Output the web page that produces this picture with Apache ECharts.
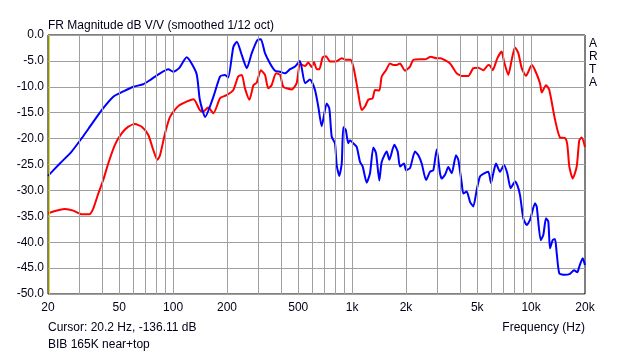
<!DOCTYPE html>
<html><head><meta charset="utf-8">
<script src="https://cdn.jsdelivr.net/npm/echarts@6/dist/echarts.min.js"></script>
<style>html,body{margin:0;padding:0;background:#fff}#c{width:633px;height:354px}</style>
</head><body><div id="c"></div>
<script>
const xTickLabels = [20, 50, 100, 200, 500, 1000, 2000, 5000, 10000, 20000];
const gridFreqs = [30,40,50,60,70,80,90,100,200,300,400,500,600,700,800,900,1000,2000,3000,4000,5000,6000,7000,8000,9000,10000];
const cursorFreq = 20.2;

const blueFreq = [20,23.3,27.1,30.9,34.3,39.9,46.3,52.7,59.9,68.1,74.3,82.7,94,100,108,119,135,141,151,168,183,195,203,217,227,242,258,275,295,309,326,348,371,396,422,450,480,511,546,582,620,647,676,721,746,769,802,820,848,875,893,921,952,973,1015,1061,1107,1146,1206,1259,1313,1360,1419,1463,1561,1614,1721,1797,1852,1949,2000,2106,2246,2344,2448,2588,2724,2842,2970,3098,3166,3304,3447,3600,3806,3920,4096,4180,4367,4556,4754,4966,5181,5405,5766,5971,6148,6365,6699,7054,7360,7690,8128,8373,8670,9046,9450,9858,10513,10746,11312,11696,12110,12472,12750,13199,13594,13900,14372,15466,16494,17362,18115,18589,19420,20000];
const blueDb = [-27.2,-24.8,-22.5,-19.9,-17.7,-14.5,-11.9,-10.9,-10.0,-9.5,-8.7,-7.6,-6.6,-7.1,-6.4,-4.3,-7.4,-12.5,-15.8,-11.9,-8.0,-7.7,-8.2,-2.3,-1.3,-3.9,-6.4,-3.5,-1.0,-0.8,-3.5,-5.5,-6.9,-7.1,-7.4,-6.6,-6.1,-5.0,-9.3,-8.6,-10.6,-13.8,-17.6,-13.2,-14.2,-19.6,-20.9,-25.1,-27.2,-24.8,-17.8,-18.3,-20.9,-20.3,-20.9,-21.6,-24.5,-25.4,-28.5,-26.7,-21.7,-22.8,-28.1,-24.5,-22.5,-24.1,-21.2,-22.5,-25.4,-24.8,-26.1,-25.7,-22.5,-23.2,-24.8,-28.0,-26.4,-26.1,-22.1,-26.7,-27.7,-27.0,-25.5,-26.7,-23.2,-24.1,-28.6,-30.6,-30.2,-32.2,-33.1,-29.9,-27.3,-26.8,-26.4,-28.6,-26.7,-24.8,-26.4,-25.1,-26.7,-29.6,-28.3,-29.0,-30.9,-35.4,-36.7,-35.7,-32.5,-33.1,-39.6,-38.6,-35.4,-36.0,-41.2,-39.6,-39.4,-42.1,-46.0,-46.3,-46.1,-45.4,-45.8,-44.7,-43.1,-44.4];

const redFreq = [20,24.9,27.7,30.9,34.0,35.8,38.2,40.7,43.4,47.3,51.6,56.2,61.2,66.8,72.7,77.5,81.6,84.5,90.1,96.1,107,130,141,147,157,168,183,199,217,231,242,252,267,281,293,309,326,340,355,376,396,413,460,490,511,546,569,595,612,634,656,685,715,752,813,875,933,982,1015,1051,1083,1131,1180,1231,1303,1342,1419,1463,1546,1628,1699,1774,1852,1974,2106,2198,2395,2554,2748,2970,3098,3232,3524,3840,4096,4457,4754,5070,5405,5766,5894,6102,6472,6848,7054,7457,7790,8128,8483,8862,9364,10076,10513,11211,11460,12110,12636,13594,14502,15466,15932,16349,17078,17975,18589,19175,20000];
const redDb = [-34.4,-33.6,-33.9,-34.6,-34.6,-33.5,-30.6,-28.0,-24.8,-21.2,-19.0,-17.7,-17.2,-17.7,-19.3,-22.2,-24.1,-23.2,-19.0,-15.8,-13.7,-12.4,-14.5,-14.8,-14.0,-15.1,-12.2,-11.6,-10.6,-8.0,-7.7,-10.3,-12.5,-9.7,-9.2,-6.8,-7.7,-10.3,-9.7,-7.4,-7.7,-10.0,-10.5,-9.3,-5.6,-6.0,-5.3,-6.2,-5.2,-6.6,-6.6,-4.3,-4.1,-5.1,-5.1,-4.5,-4.8,-4.8,-6.1,-8.7,-11.3,-14.5,-13.8,-12.5,-12.2,-10.6,-10.7,-8.0,-6.8,-5.5,-5.8,-5.8,-5.5,-6.9,-6.1,-4.8,-4.7,-4.7,-4.2,-4.5,-4.5,-4.7,-5.5,-7.4,-7.9,-7.9,-6.4,-6.3,-6.8,-5.8,-5.9,-6.8,-4.5,-3.2,-5.1,-7.7,-4.8,-2.4,-3.5,-6.4,-7.9,-5.8,-6.8,-9.3,-11.1,-9.7,-10.6,-16.3,-19.8,-19.9,-21.2,-25.4,-27.7,-25.4,-20.3,-19.8,-21.6];

const zip = (a, b) => a.map((v, i) => [v, b[i]]);
const fmtF = v => v >= 1000 ? (v / 1000) + 'k' : String(v);
const FONT = 'Liberation Sans, Arial, sans-serif';
const TXT = '#000018';

const chart = echarts.init(document.getElementById('c'), null, {renderer: 'canvas'});
chart.setOption({
  animation: false,
  backgroundColor: '#ffffff',
  textStyle: {fontFamily: FONT},
  grid: {left: 48, right: 48, top: 35, bottom: 60, show: true, backgroundColor: '#ffffff', borderColor: '#000000', borderWidth: 1},
  xAxis: {
    type: 'log', logBase: 10, min: 20, max: 20000,
    axisLine: {show: false}, axisTick: {show: false}, splitLine: {show: false}, minorSplitLine: {show: false},
    axisLabel: {customValues: xTickLabels, formatter: fmtF, color: TXT, fontSize: 12, fontFamily: FONT, margin: 8, showMinLabel: true, showMaxLabel: true}
  },
  yAxis: {
    type: 'value', min: -50, max: 0, interval: 5,
    axisLine: {show: false}, axisTick: {show: false},
    splitLine: {show: true, lineStyle: {color: '#a0a0a0', width: 1}},
    axisLabel: {formatter: v => v.toFixed(1), color: TXT, fontSize: 12, fontFamily: FONT, margin: 4}
  },
  series: [
    {type: 'line', data: [], z: 1, silent: true,
     markLine: {silent: true, symbol: 'none', animation: false, label: {show: false},
       lineStyle: {color: '#a0a0a0', type: 'solid', width: 1},
       data: gridFreqs.map(f => ({xAxis: f}))}},
    {type: 'line', data: [], z: 2, silent: true,
     markLine: {silent: true, symbol: 'none', animation: false, label: {show: false},
       lineStyle: {color: '#e0e000', type: 'solid', width: 1},
       data: [{xAxis: cursorFreq}]}},
    {name: 'red', type: 'line', data: zip(redFreq, redDb), showSymbol: false, smooth: 0.2, z: 3,
     lineStyle: {color: '#ff0000', width: 2}, itemStyle: {color: '#ff0000'}},
    {name: 'blue', type: 'line', data: zip(blueFreq, blueDb), showSymbol: false, smooth: 0.2, z: 4,
     lineStyle: {color: '#0000ff', width: 2}, itemStyle: {color: '#0000ff'}}
  ],
  graphic: [
    {type: 'text', left: 48, top: 20, style: {text: 'FR Magnitude dB V/V (smoothed 1/12 oct)', fill: TXT, font: '12px ' + FONT}},
    {type: 'text', left: 48, top: 322, style: {text: 'Cursor: 20.2 Hz, -136.11 dB', fill: TXT, font: '12px ' + FONT}},
    {type: 'text', left: 48, top: 339, style: {text: 'BIB 165K near+top', fill: TXT, font: '12px ' + FONT}},
    {type: 'text', right: 48, top: 322, style: {text: 'Frequency (Hz)', fill: TXT, font: '12px ' + FONT, align: 'right'}},
    {type: 'text', left: 589, top: 37, style: {text: 'A\nR\nT\nA', fill: TXT, font: '12px ' + FONT, lineHeight: 13}}
  ]
});
</script></body></html>
